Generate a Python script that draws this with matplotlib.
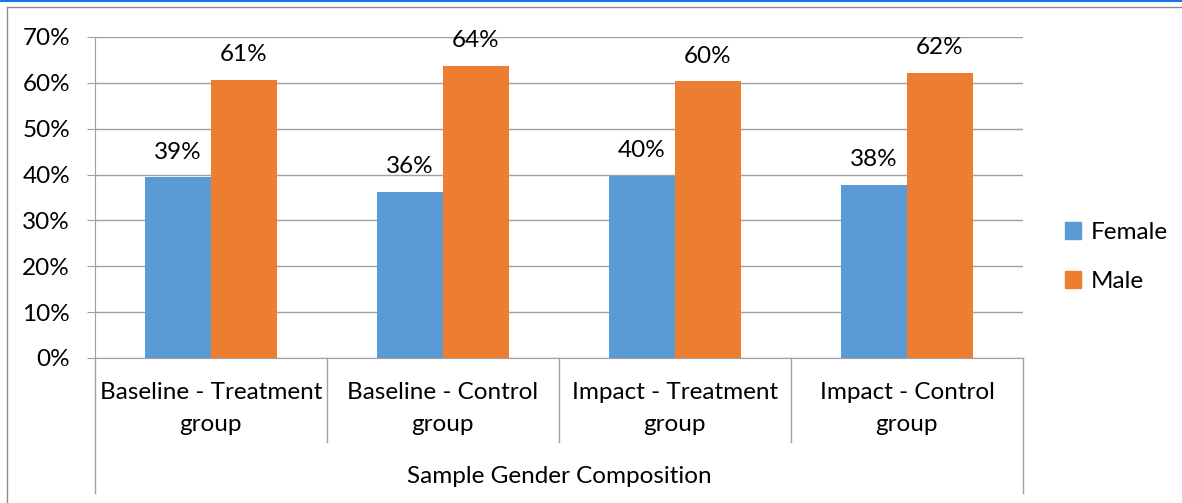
import matplotlib.pyplot as plt
import numpy as np
from matplotlib.lines import Line2D
from matplotlib.patches import Patch

plt.rcParams['font.family'] = ['Lato', 'DejaVu Sans']

groups = ['Baseline - Treatment\ngroup', 'Baseline - Control\ngroup',
          'Impact - Treatment\ngroup', 'Impact - Control\ngroup']
female = [39.4, 36.3, 39.7, 37.8]
male = [60.6, 63.7, 60.3, 62.2]
female_labels = ['39%', '36%', '40%', '38%']
male_labels = ['61%', '64%', '60%', '62%']
yticks = [0, 10, 20, 30, 40, 50, 60, 70]
outer_label = 'Sample Gender Composition'

FS = 17.5
W, H = 1182, 503
fig = plt.figure(figsize=(W / 100, H / 100), dpi=100)
# plot area in pixels: x 95..1023, y 37..358
ax = fig.add_axes([95 / W, (H - 358) / H, (1023 - 95) / W, (358 - 37) / H])

x = np.arange(len(groups))
bw = 66 / 232
c_f, c_m = '#5B9BD5', '#ED7D31'
b1 = ax.bar(x - bw / 2, female, bw, color=c_f, zorder=3)
b2 = ax.bar(x + bw / 2, male, bw, color=c_m, zorder=3)

for bars, labs in [(b1, female_labels), (b2, male_labels)]:
    for b, t in zip(bars, labs):
        ax.annotate(t, (b.get_x() + b.get_width() / 2, b.get_height()),
                    xytext=(0, 13.5), textcoords='offset points',
                    ha='center', va='baseline', fontsize=FS)

ax.set_xlim(-0.5, len(groups) - 0.5)
ax.set_ylim(0, 70)
ax.set_yticks(yticks)
ax.set_yticklabels([f'{v}%' for v in yticks], fontsize=FS)
ax.tick_params(axis='y', length=6, color='#a0a0a0', pad=12)
ax.set_xticks([])
ax.grid(axis='y', color='#a0a0a0', lw=1, zorder=0)
for s in ['top', 'right']:
    ax.spines[s].set_visible(False)
ax.spines['left'].set_color('#a0a0a0')
ax.spines['bottom'].set_color('#a0a0a0')

# multi-level category axis
trans = ax.get_xaxis_transform()
for i in range(len(groups) + 1):
    y_end = -0.42 if i in (0, len(groups)) else -0.262
    ax.add_line(Line2D([i - 0.5, i - 0.5], [0, y_end], transform=trans,
                       color='#a0a0a0', lw=1, clip_on=False))
for i, g in enumerate(groups):
    ax.text(i, -0.075, g, transform=trans, ha='center', va='top',
            fontsize=FS, linespacing=1.62)
ax.text(0.5, -0.37, outer_label, transform=ax.transAxes, ha='center',
        va='center', fontsize=FS)

# legend
handles = [Patch(color=c_f, label='Female'), Patch(color=c_m, label='Male')]
fig.legend(handles=handles, loc='center left', bbox_to_anchor=(1043 / W, 1 - 257 / H),
           frameon=False, fontsize=FS, handlelength=0.65, handleheight=0.65,
           handletextpad=0.4, labelspacing=1.15)

# chart area border and top blue line
fig.add_artist(Line2D([0, 1], [1 - 1 / H, 1 - 1 / H], color='#1a73e8', lw=1.5))
fig.add_artist(Line2D([7 / W, 1], [1 - 7 / H, 1 - 7 / H], color='#8c8c8c', lw=1))
fig.add_artist(Line2D([7 / W, 7 / W], [0, 1 - 7 / H], color='#8c8c8c', lw=1))

fig.savefig('out.png', dpi=100)
